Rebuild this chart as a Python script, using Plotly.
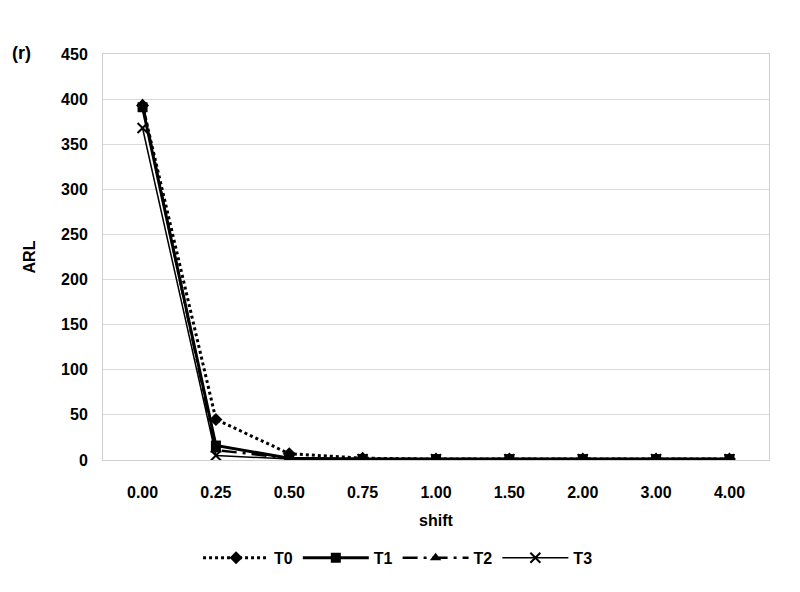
import plotly.graph_objects as go

shift = ["0.00", "0.25", "0.50", "0.75", "1.00", "1.50", "2.00", "3.00", "4.00"]
T0 = [393, 45, 7, 2, 1, 1, 1, 1, 1]
T1 = [391, 16, 2, 1, 1, 1, 1, 1, 1]
T2 = [395, 11, 2, 1, 1, 1, 1, 1, 1]
T3 = [368, 5, 1, 1, 1, 1, 1, 1, 1]
y_ticks = [0, 50, 100, 150, 200, 250, 300, 350, 400, 450]

fig = go.Figure()
fig.add_trace(go.Scatter(x=shift, y=T0, name="T0", mode="lines+markers",
                         line=dict(color="black", width=3, dash="dot"),
                         marker=dict(symbol="diamond", size=10, color="black")))
fig.add_trace(go.Scatter(x=shift, y=T1, name="T1", mode="lines+markers",
                         line=dict(color="black", width=3),
                         marker=dict(symbol="square", size=10, color="black")))
fig.add_trace(go.Scatter(x=shift, y=T2, name="T2", mode="lines+markers",
                         line=dict(color="black", width=2.5, dash="longdashdot"),
                         marker=dict(symbol="triangle-up", size=10, color="black")))
fig.add_trace(go.Scatter(x=shift, y=T3, name="T3", mode="lines+markers",
                         line=dict(color="black", width=1.5),
                         marker=dict(symbol="x-thin-open", size=10, color="black",
                                     line=dict(color="black", width=2))))

font = "Liberation Sans, Arial, sans-serif"
fig.update_layout(
    width=792, height=584,
    margin=dict(l=95, r=31, t=46, b=132, autoexpand=False),
    paper_bgcolor="white", plot_bgcolor="white",
    font=dict(family=font, size=16, color="black"),
    showlegend=True,
    legend=dict(orientation="h", x=0.443, xanchor="center", y=-0.241, yanchor="middle",
                font=dict(size=16, family=font, weight="bold"), itemwidth=66),
)
fig.add_annotation(text="<b>(r)</b>", xref="paper", yref="paper", x=-0.14, y=1.0025,
                   xanchor="left", yanchor="middle", showarrow=False,
                   font=dict(size=18, family=font))
fig.update_xaxes(type="category", showgrid=False, showline=True, linecolor="#d0d0d0",
                 mirror=True, ticks="", automargin=False, ticklabelstandoff=18,
                 tickfont=dict(size=16, family=font, weight="bold"),
                 title=dict(text="<b>shift</b>", font=dict(size=16), standoff=14),
                 zeroline=False)
fig.update_yaxes(range=[0, 450], tickvals=y_ticks, showgrid=True, gridcolor="#d9d9d9",
                 gridwidth=1, showline=True, linecolor="#d0d0d0", mirror=True,
                 zeroline=False, ticks="", automargin=False, ticklabelstandoff=11,
                 tickfont=dict(size=16, family=font, weight="bold"),
                 title=dict(text="<b>ARL</b>", font=dict(size=16), standoff=21))

fig.write_html("out.html")
